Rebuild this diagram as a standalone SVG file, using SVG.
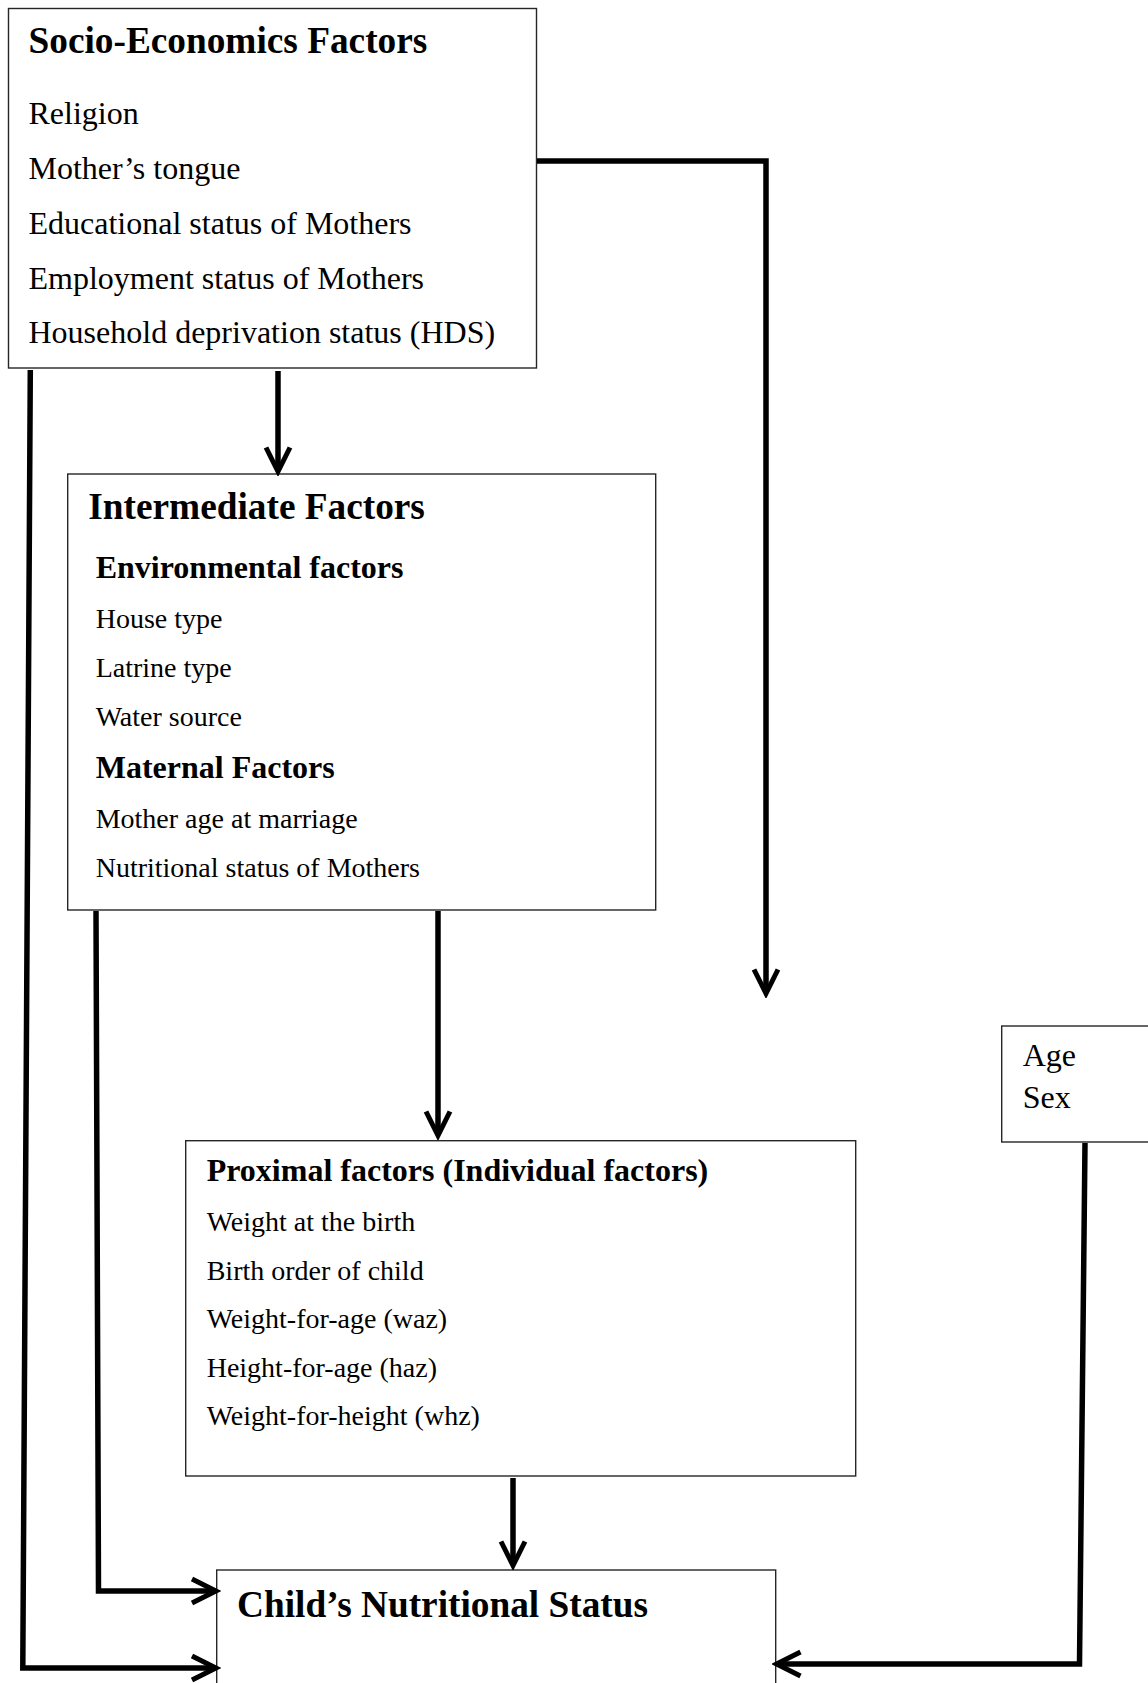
<svg xmlns="http://www.w3.org/2000/svg" width="1148" height="1683" viewBox="0 0 1148 1683">
  <style>
    .box { fill: #ffffff; stroke: #262626; stroke-width: 1.4; }
    text { font-family: "Liberation Serif", "Times New Roman", serif; fill: #000; }
    .h1 { font-size: 37.3px; font-weight: bold; }
    .h2 { font-size: 32px; font-weight: bold; }
    .t1 { font-size: 32px; }
    .t2 { font-size: 28px; }
    .conn { fill: none; stroke: #000; stroke-width: 5.5; stroke-linejoin: miter; }
  </style>
  <defs>
    <marker id="arrow" markerUnits="userSpaceOnUse" viewBox="-32 -16 40 32" markerWidth="40" markerHeight="32" refX="0" refY="0" orient="auto">
      <path d="M-20.5,-12 L3.5,0 L-20.5,12" fill="none" stroke="#000" stroke-width="5" stroke-linejoin="miter"/>
    </marker>
  </defs>
  <rect width="1148" height="1683" fill="#ffffff"/>

  <g id="socio-economics">
    <rect class="box" x="8.5" y="8.5" width="528" height="359.5"/>
    <text class="h1" x="28.5" y="53.3">Socio-Economics Factors</text>
    <text class="t1" x="28.5" y="124">Religion</text>
    <text class="t1" x="28.5" y="179.3">Mother’s tongue</text>
    <text class="t1" x="28.5" y="233.5">Educational status of Mothers</text>
    <text class="t1" x="28.5" y="288.5">Employment status of Mothers</text>
    <text class="t1" x="28.5" y="343.3">Household deprivation status (HDS)</text>
  </g>

  <g id="intermediate">
    <rect class="box" x="67.7" y="474" width="588" height="436"/>
    <text class="h1" x="88.3" y="519.3">Intermediate Factors</text>
    <text class="h2" x="95.7" y="578.3">Environmental factors</text>
    <text class="t2" x="95.7" y="628.3">House type</text>
    <text class="t2" x="95.7" y="677.3">Latrine type</text>
    <text class="t2" x="95.7" y="725.5">Water source</text>
    <text class="h2" x="95.7" y="778.3">Maternal Factors</text>
    <text class="t2" x="95.7" y="828.3">Mother age at marriage</text>
    <text class="t2" x="95.7" y="876.7">Nutritional status of Mothers</text>
  </g>

  <g id="age-sex">
    <rect class="box" x="1001.7" y="1026" width="147" height="116"/>
    <text class="t1" x="1022.7" y="1065.7">Age</text>
    <text class="t1" x="1022.7" y="1108">Sex</text>
  </g>

  <g id="proximal">
    <rect class="box" x="185.7" y="1140.7" width="670" height="335.3"/>
    <text class="h2" x="206.7" y="1181">Proximal factors (Individual factors)</text>
    <text class="t2" x="206.7" y="1230.7">Weight at the birth</text>
    <text class="t2" x="206.7" y="1280">Birth order of child</text>
    <text class="t2" x="206.7" y="1328.3">Weight-for-age (waz)</text>
    <text class="t2" x="206.7" y="1376.7">Height-for-age (haz)</text>
    <text class="t2" x="206.7" y="1425">Weight-for-height (whz)</text>
  </g>

  <g id="child-status">
    <rect class="box" x="216.7" y="1570" width="559" height="130"/>
    <text class="h1" x="237" y="1616.7">Child’s Nutritional Status</text>
  </g>

  <g id="connectors">
    <path class="conn" d="M278,371 V468" marker-end="url(#arrow)"/>
    <path class="conn" d="M537,161 H766 V990" marker-end="url(#arrow)"/>
    <path class="conn" d="M438,911 V1132" marker-end="url(#arrow)"/>
    <path class="conn" d="M513,1478 V1562" marker-end="url(#arrow)"/>
    <path class="conn" d="M30.3,370 L22.8,1668 H212.5" marker-end="url(#arrow)"/>
    <path class="conn" d="M96,911 L98.5,1591 H212.5" marker-end="url(#arrow)"/>
    <path class="conn" d="M1085,1143 L1079.5,1664 H780" marker-end="url(#arrow)"/>
  </g>
</svg>
